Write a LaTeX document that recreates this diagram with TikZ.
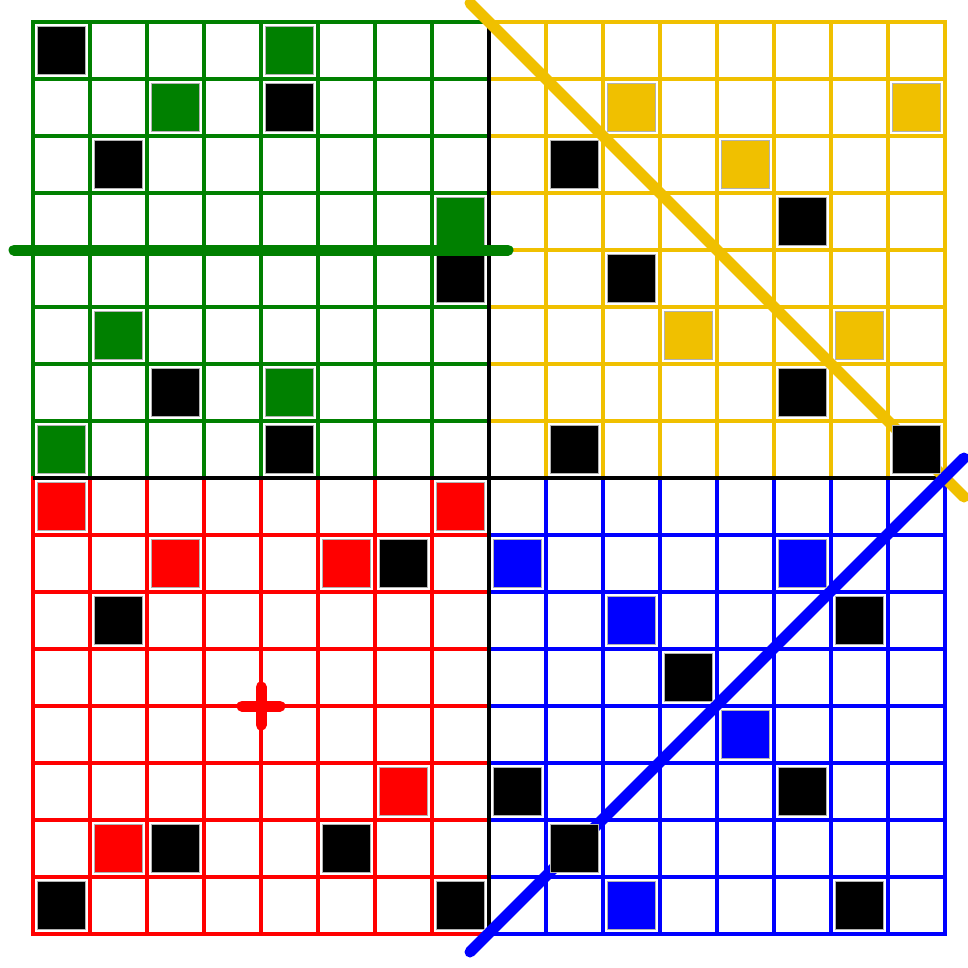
\documentclass[tikz,border=0pt]{standalone}
\definecolor{qgreen}{RGB}{0,128,0}
\definecolor{qyellow}{RGB}{240,192,0}
\definecolor{qred}{RGB}{255,0,0}
\definecolor{qblue}{RGB}{0,0,255}
\begin{document}
\begin{tikzpicture}[x=1pt,y=-1pt,
  gridline/.style={line width=3.3pt, line cap=rect},
  axisline/.style={line width=3.3pt, draw=black},
  cellfill/.style={draw=black!30, line width=0.6pt},
  bigline/.style={line width=11pt, line cap=round}]
\useasboundingbox (0,0) rectangle (968,967);
\fill[white] (0,0) rectangle (968,967);
% quadrant grids
\foreach \qx/\qy/\col in {0/0/qgreen, 8/0/qyellow, 0/8/qred, 8/8/qblue}{
  \foreach \i in {0,...,8}{
    \draw[gridline, draw=\col] ({33+57*(\qx+\i)},{22+57*\qy}) -- ({33+57*(\qx+\i)},{22+57*(\qy+8)});
    \draw[gridline, draw=\col] ({33+57*\qx},{22+57*(\qy+\i)}) -- ({33+57*(\qx+8)},{22+57*(\qy+\i)});
  }
}
% centre axes
\coordinate (vt) at (489,22);
\coordinate (vb) at (489,933);
\coordinate (hl) at (33,478);
\coordinate (hr) at (945,478);
\draw[axisline] (vt) -- (vb);
\draw[axisline] (hl) -- (hr);
% diagonal lines
\coordinate (ya) at (470,3);
\coordinate (yb) at (964,497);
\coordinate (ba) at (470,952);
\coordinate (bb) at (964,458);
\draw[bigline, draw=qyellow] (ya) -- (yb);
\draw[bigline, draw=qblue] (ba) -- (bb);
% filled cells
\foreach \c/\r/\col in {
  0/0/black, 4/0/qgreen, 2/1/qgreen, 4/1/black, 1/2/black, 7/3/qgreen, 7/4/black,
  1/5/qgreen, 2/6/black, 4/6/qgreen, 0/7/qgreen, 4/7/black,
  10/1/qyellow, 15/1/qyellow, 9/2/black, 12/2/qyellow, 13/3/black, 10/4/black,
  11/5/qyellow, 14/5/qyellow, 13/6/black, 9/7/black, 15/7/black,
  0/8/qred, 7/8/qred, 2/9/qred, 5/9/qred, 6/9/black, 1/10/black, 6/13/qred,
  1/14/qred, 2/14/black, 5/14/black, 0/15/black, 7/15/black,
  8/9/qblue, 13/9/qblue, 10/10/qblue, 14/10/black, 11/11/black, 12/12/qblue,
  8/13/black, 13/13/black, 9/14/black, 10/15/qblue, 14/15/black}{
  \filldraw[cellfill, fill=\col] ({33+57*\c+4.5},{22+57*\r+4.5}) rectangle +(48,48);
}
% green horizontal line
\coordinate (ga) at (14,250);
\coordinate (gb) at (508,250);
\draw[bigline, draw=qgreen] (ga) -- (gb);
% red plus
\coordinate (pc) at (261,706);
\draw[bigline, draw=qred] ([xshift=-19pt]pc) -- ([xshift=19pt]pc);
\draw[bigline, draw=qred] ([yshift=-19pt]pc) -- ([yshift=19pt]pc);
\end{tikzpicture}
\end{document}
